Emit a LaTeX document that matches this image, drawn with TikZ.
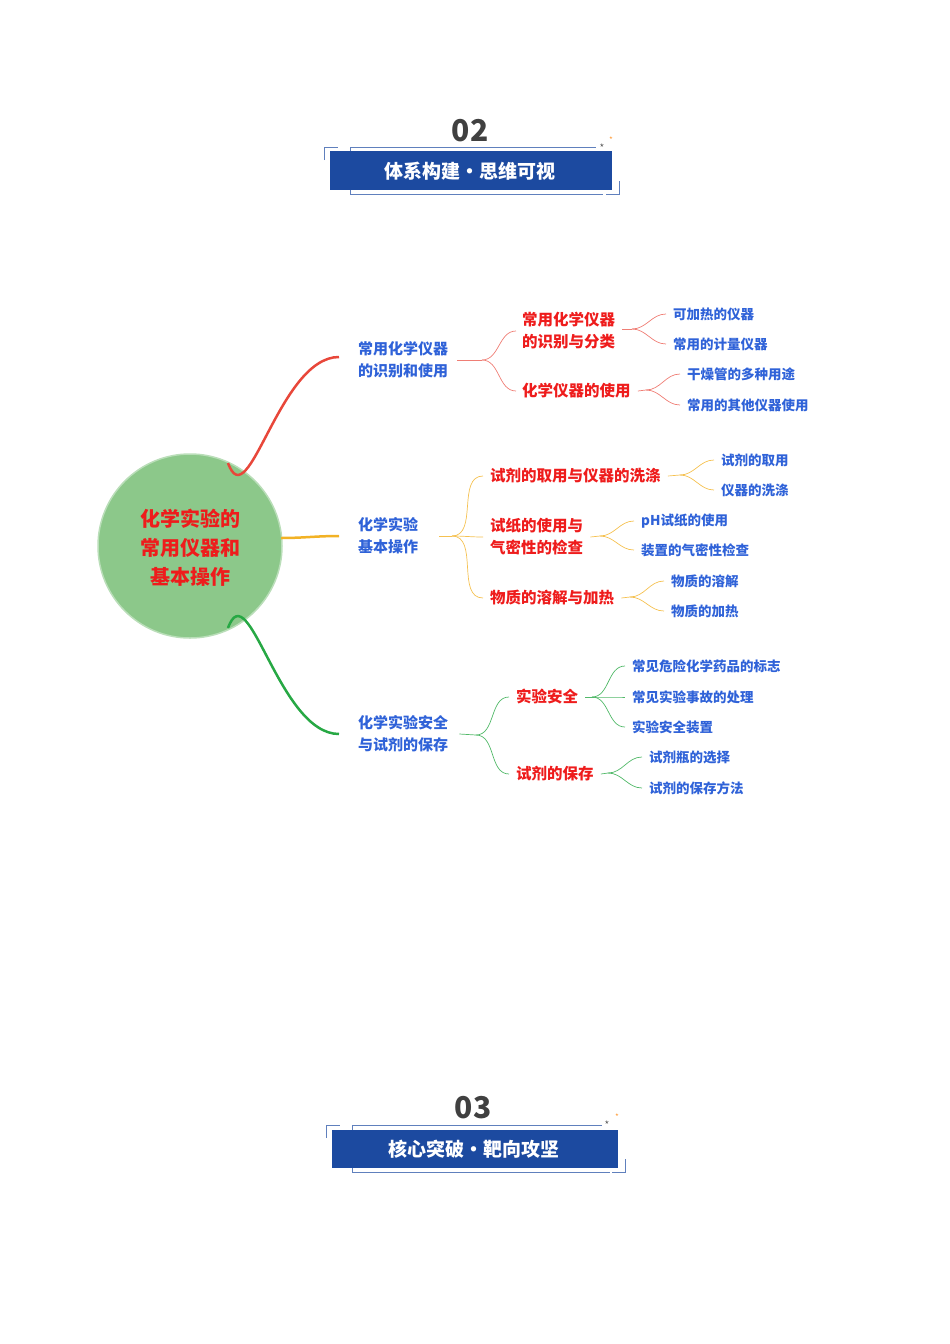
\documentclass[tikz,border=0pt]{standalone}
\usepackage{fontspec}
\newfontfamily\cjk{Noto Sans CJK SC}
\usetikzlibrary{calc}
\definecolor{tblue}{HTML}{1C4AA0}
\definecolor{lblue}{HTML}{2F62D8}
\definecolor{mred}{HTML}{EE1C1C}
\definecolor{cred}{HTML}{E8473A}
\definecolor{cyel}{HTML}{F2B225}
\definecolor{cgrn}{HTML}{27A844}
\definecolor{cgreen}{HTML}{8CC88A}
\tikzset{
 lone/.style={anchor=west,align=left,text=lblue,font=\cjk\bfseries\fontsize{15}{22}\selectfont,inner sep=1pt},
 ltwo/.style={anchor=west,align=left,text=mred,font=\cjk\bfseries\fontsize{15.5}{22}\selectfont,inner sep=1pt},
 lthree/.style={anchor=west,align=left,text=lblue,font=\cjk\bfseries\fontsize{13.5}{18}\selectfont,inner sep=1pt},
 rb/.style={draw=cred!70,line width=0.7pt},
 yb/.style={draw=cyel!80,line width=0.7pt},
 gb/.style={draw=cgrn!80,line width=0.7pt},
 frame/.style={draw=tblue!70,line width=0.8pt},
}
\newcommand\titlebox[4]{%
 \node[font=\cjk\bfseries\fontsize{30}{30}\selectfont,text=black!75] (#4n) at (#1+140,#2-20) {#3};
}
\begin{document}
\begin{tikzpicture}[x=1pt,y=-1pt]
\useasboundingbox (0,0) rectangle (950,1344);
% title 02
\node[font=\cjk\bfseries\fontsize{30}{30}\selectfont,text=black!75] (n02) at (470,131) {02};
\fill[tblue] (330,151) rectangle (612,190);
\node[font=\cjk\bfseries\fontsize{19}{19}\selectfont,text=white] (t02) at (470,171) {体系构建・思维可视};
\draw[frame] (324,160) -- (324,147) -- (338,147);
\draw[frame] (350,151) -- (350,147) -- (596,147);
\draw[frame] (350,190) -- (350,194) -- (603,194);
\draw[frame] (606,194) -- (619,194) -- (619,181);
\node[text=black!80,font=\fontsize{8}{8}\selectfont] (s1) at (602,146) {$\star$};
\node[text=orange,font=\fontsize{6}{6}\selectfont] (s2) at (611,138) {$\star$};
% title 03
\node[font=\cjk\bfseries\fontsize{30}{30}\selectfont,text=black!75] (n03) at (473,1108) {03};
\fill[tblue] (332,1130) rectangle (618,1168);
\node[font=\cjk\bfseries\fontsize{19}{19}\selectfont,text=white] (t03) at (474,1149) {核心突破・靶向攻坚};
\draw[frame] (326,1138) -- (326,1125) -- (340,1125);
\draw[frame] (352,1130) -- (352,1125) -- (602,1125);
\draw[frame] (352,1168) -- (352,1172) -- (610,1172);
\draw[frame] (612,1172) -- (625,1172) -- (625,1159);
\node[text=black!80,font=\fontsize{8}{8}\selectfont] (s3) at (607,1123) {$\star$};
\node[text=orange,font=\fontsize{6}{6}\selectfont] (s4) at (617,1115) {$\star$};
% center
\node[circle,fill=cgreen,draw=cgreen!60,line width=1.5pt,minimum size=184pt,inner sep=0pt] (c) at (190,546) {};
\node[align=center,text=mred,font=\cjk\bfseries\fontsize{20}{29}\selectfont] (ct) at (190,548) {化学实验的\\常用仪器和\\基本操作};
% level 1
\node[lone] (a) at (357,360) {常用化学仪器\\的识别和使用};
\node[lone] (b) at (357,536) {化学实验\\基本操作};
\node[lone] (d) at (357,734) {化学实验安全\\与试剂的保存};
\draw[cred,line width=2.5pt] (228,463) to[out=-70,in=180,looseness=1] ($(a.west)+(-18,-3)$);
\draw[cyel,line width=2.5pt] (281,538) to[out=0,in=180] ($(b.west)+(-18,0)$);
\draw[cgrn,line width=2.5pt] (228,628) to[out=70,in=180,looseness=1] ($(d.west)+(-18,0)$);
% red group
\node[ltwo] (a1) at (521,331) {常用化学仪器\\的识别与分类};
\node[ltwo] (a2) at (521,391) {化学仪器的使用};
\coordinate (ja) at (482,360);
\draw[rb] (a.east) ++(8,0) -- (ja);
\foreach \n in {a1,a2} \draw[rb] (ja) to[out=0,in=180] ($(\n.west)+(-5,0)$);
\node[lthree] (a11) at (672,314) {可加热的仪器};
\node[lthree] (a12) at (672,344) {常用的计量仪器};
\coordinate (ja1) at (632,329);
\draw[rb] ($(a1.east)+(6,-2)$) -- (ja1);
\foreach \n in {a11,a12} \draw[rb] (ja1) to[out=0,in=180] ($(\n.west)+(-6,0)$);
\node[lthree] (a21) at (686,374) {干燥管的多种用途};
\node[lthree] (a22) at (686,405) {常用的其他仪器使用};
\coordinate (ja2) at (646,390);
\draw[rb] ($(a2.east)+(6,0)$) -- (ja2);
\foreach \n in {a21,a22} \draw[rb] (ja2) to[out=0,in=180] ($(\n.west)+(-6,0)$);
% yellow group
\node[ltwo] (b1) at (489,476) {试剂的取用与仪器的洗涤};
\node[ltwo] (b2) at (489,537) {试纸的使用与\\气密性的检查};
\node[ltwo] (b3) at (489,598) {物质的溶解与加热};
\coordinate (jb) at (452,536);
\draw[yb] ($(b.east)+(20,0)$) -- (jb);
\foreach \n in {b1,b2,b3} \draw[yb] (jb) to[out=0,in=180] ($(\n.west)+(-6,0)$);
\node[lthree] (b11) at (720,460) {试剂的取用};
\node[lthree] (b12) at (720,490) {仪器的洗涤};
\coordinate (jb1) at (680,475);
\draw[yb] ($(b1.east)+(6,0)$) -- (jb1);
\foreach \n in {b11,b12} \draw[yb] (jb1) to[out=0,in=180] ($(\n.west)+(-6,0)$);
\node[lthree] (b21) at (640,521) {pH试纸的使用};
\node[lthree] (b22) at (640,550) {装置的气密性检查};
\coordinate (jb2) at (600,536);
\draw[yb] ($(b2.east)+(6,0)$) -- (jb2);
\foreach \n in {b21,b22} \draw[yb] (jb2) to[out=0,in=180] ($(\n.west)+(-6,0)$);
\node[lthree] (b31) at (670,581) {物质的溶解};
\node[lthree] (b32) at (670,611) {物质的加热};
\coordinate (jb3) at (630,597);
\draw[yb] ($(b3.east)+(6,0)$) -- (jb3);
\foreach \n in {b31,b32} \draw[yb] (jb3) to[out=0,in=180] ($(\n.west)+(-6,0)$);
% green group
\node[ltwo] (d1) at (515,697) {实验安全};
\node[ltwo] (d2) at (515,774) {试剂的保存};
\coordinate (jd) at (476,735);
\draw[gb] ($(d.east)+(10,0)$) -- (jd);
\foreach \n in {d1,d2} \draw[gb] (jd) to[out=0,in=180] ($(\n.west)+(-6,0)$);
\node[lthree] (d11) at (631,666) {常见危险化学药品的标志};
\node[lthree] (d12) at (631,697) {常见实验事故的处理};
\node[lthree] (d13) at (631,727) {实验安全装置};
\coordinate (jd1) at (592,697);
\draw[gb] ($(d1.east)+(6,0)$) -- (jd1);
\foreach \n in {d11,d12,d13} \draw[gb] (jd1) to[out=0,in=180] ($(\n.west)+(-6,0)$);
\node[lthree] (d21) at (648,757) {试剂瓶的选择};
\node[lthree] (d22) at (648,788) {试剂的保存方法};
\coordinate (jd2) at (608,773);
\draw[gb] ($(d2.east)+(6,0)$) -- (jd2);
\foreach \n in {d21,d22} \draw[gb] (jd2) to[out=0,in=180] ($(\n.west)+(-6,0)$);
\end{tikzpicture}
\end{document}
